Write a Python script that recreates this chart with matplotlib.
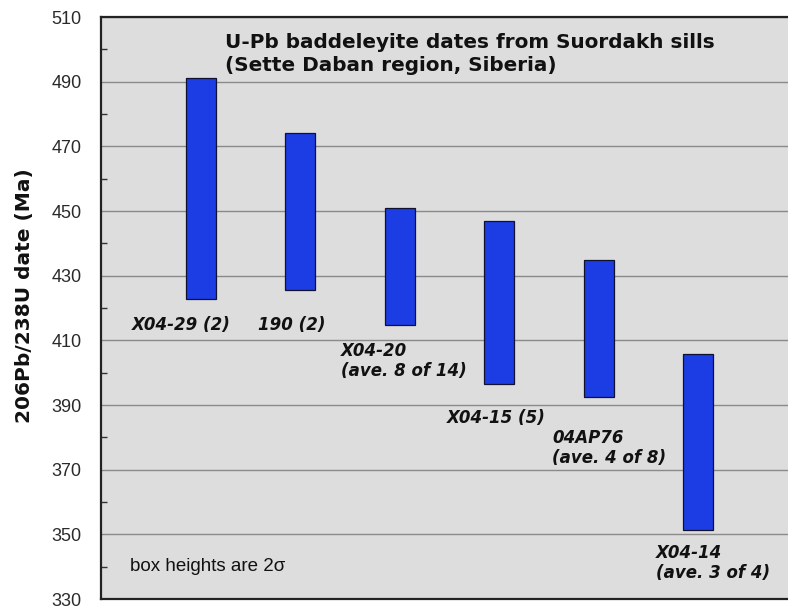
import matplotlib
matplotlib.use("Agg")
import matplotlib.pyplot as plt
from matplotlib.ticker import MultipleLocator

# U-Pb baddeleyite ages (Ma): 2-sigma box limits per sample
samples = ["X04-29 (2)", "190 (2)", "X04-20\n(ave. 8 of 14)", "X04-15 (5)",
           "04AP76\n(ave. 4 of 8)", "X04-14\n(ave. 3 of 4)"]
age_low = [422.7, 425.6, 414.7, 396.5, 392.6, 351.3]
age_high = [491.0, 474.0, 450.8, 447.0, 434.8, 405.7]
yticks = list(range(330, 511, 20))

# label anchors (left x in slot units, vertical centre in Ma)
label_x = [0.31, 1.58, 2.41, 3.47, 4.53, 5.57]
label_y = [414.7, 414.7, 403.6, 386.0, 376.7, 341.1]

fig = plt.figure(figsize=(7.88, 6.10), dpi=100)
ax = fig.add_axes([101 / 788, 1 - 599 / 610, 1 - 101 / 788, 582 / 610])
ax.set_facecolor("#dddddd")

xpos = [i + 1 for i in range(len(samples))]
heights = [h - l for l, h in zip(age_low, age_high)]
ax.bar(xpos, heights, bottom=age_low, width=0.3, color="#1c3ce4",
       edgecolor="#101030", linewidth=0.9, zorder=3)

ax.set_xlim(0, 6.9)
ax.set_ylim(330, 510)
ax.set_yticks(yticks)
ax.set_yticklabels([str(t) for t in yticks], fontfamily="Liberation Sans", fontsize=13)
ax.yaxis.set_minor_locator(MultipleLocator(10))
ax.tick_params(axis="y", which="major", length=0, pad=14, colors="#2a2a2a")
ax.tick_params(axis="y", which="minor", direction="in", length=4, width=1, color="#333333")
ax.set_xticks([])
ax.yaxis.grid(True, which="major", color="#8a8a8a", linewidth=1.0, zorder=1)
ax.set_axisbelow(True)

for side in ("left", "top", "bottom"):
    ax.spines[side].set_color("#222222")
    ax.spines[side].set_linewidth(1.6)
ax.spines["right"].set_visible(False)

ax.set_ylabel("206Pb/238U date (Ma)", fontfamily="DejaVu Sans", fontweight="bold",
              fontsize=14.5, color="#111111")
ax.yaxis.set_label_coords(-0.097, 0.521)

ax.text(0.18, 0.936, "U-Pb baddeleyite dates from Suordakh sills\n(Sette Daban region, Siberia)",
        transform=ax.transAxes, fontfamily="DejaVu Sans", fontweight="bold",
        fontsize=14.4, color="#111111", va="center", ha="left", linespacing=1.3)

for name, lx, ly in zip(samples, label_x, label_y):
    ax.text(lx, ly, name, fontfamily="DejaVu Sans", fontweight="bold", fontstyle="italic",
            fontsize=12, color="#111111", ha="left", va="center", linespacing=1.15, zorder=4)

ax.text(0.29, 340.0, "box heights are 2σ", fontfamily="Liberation Sans", fontsize=13.5,
        color="#111111", ha="left", va="center")

fig.savefig("out.png", dpi=100, facecolor="white")
